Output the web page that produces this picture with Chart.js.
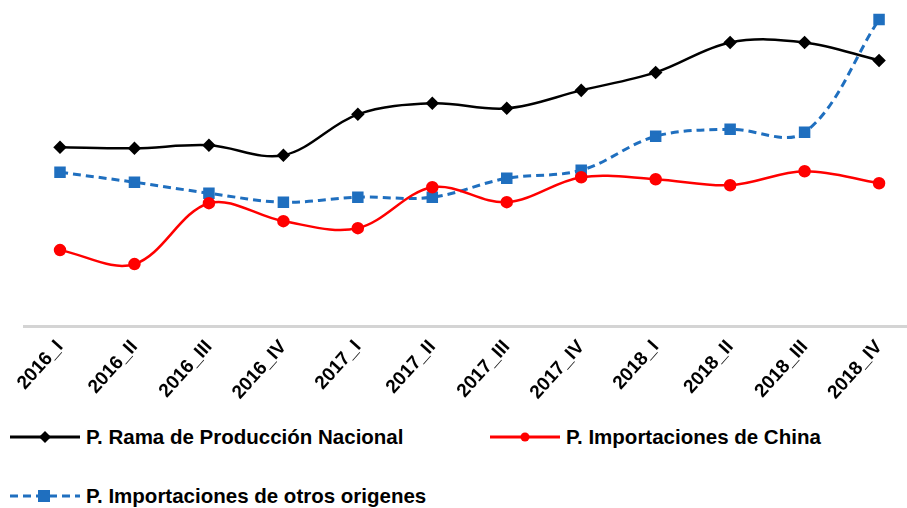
<!DOCTYPE html>
<html>
<head>
<meta charset="utf-8">
<script src="https://cdn.jsdelivr.net/npm/chart.js@4.4.1/dist/chart.umd.min.js"></script>
<style>
  html, body { margin: 0; padding: 0; background: #fff; overflow: hidden; }
  #wrap { position: relative; width: 907px; height: 508px; }
  #chartBox { position: absolute; left: 0; top: 0; width: 907px; height: 420px; }
  .leg { position: absolute; height: 24px; display: flex; align-items: center;
         font-family: 'Liberation Sans', Arial, sans-serif; font-weight: bold; font-size: 20.5px; color: #000; white-space: nowrap; }
  .leg svg { margin-right: 4px; }
</style>
</head>
<body>
<div id="wrap">
  <div id="chartBox"><canvas id="lineChart"></canvas></div>
  <div class="leg" style="left:10px; top:425px;">
    <svg width="72" height="14"><line x1="0" y1="7" x2="70" y2="7" stroke="#000" stroke-width="3"/><polygon points="35,1 41,7 35,13 29,7" fill="#000"/></svg>
    <span>P. Rama de Producción Nacional</span>
  </div>
  <div class="leg" style="left:490px; top:425px;">
    <svg width="72" height="14"><line x1="0" y1="7" x2="70" y2="7" stroke="#ff0000" stroke-width="3"/><circle cx="35" cy="7" r="4.5" fill="#ff0000"/></svg>
    <span>P. Importaciones de China</span>
  </div>
  <div class="leg" style="left:10px; top:484px;">
    <svg width="72" height="14"><line x1="0" y1="7" x2="70" y2="7" stroke="#1f6fbf" stroke-width="3" stroke-dasharray="8,5"/><rect x="28" y="1" width="12" height="12" fill="#1f6fbf"/></svg>
    <span>P. Importaciones de otros origenes</span>
  </div>
</div>
<script>
// trimestres
const labels = ['2016_I', '2016_II', '2016_III', '2016_IV', '2017_I', '2017_II', '2017_III', '2017_IV', '2018_I', '2018_II', '2018_III', '2018_IV'];

// valores (indice, sin eje visible)
const nacional = [71.2, 70.8, 72.0, 68.0, 84.4, 88.8, 86.8, 94.0, 101.2, 113.2, 113.2, 106.0];
const china = [30.0, 24.4, 48.8, 41.6, 38.8, 55.2, 49.2, 59.2, 58.4, 56.0, 61.6, 56.8];
const otros = [61.2, 57.2, 52.8, 49.2, 51.2, 51.2, 58.8, 62.0, 75.6, 78.4, 77.2, 122.4];

// linea gris del eje x
const baseLine = {
    id: 'baseLine',
    beforeDatasetsDraw(chart) {
        const c = chart.ctx;
        const y = chart.chartArea.bottom + 1.5;
        c.save();
        c.strokeStyle = '#d4d4d4';
        c.lineWidth = 3;
        c.beginPath();
        c.moveTo(23, y);
        c.lineTo(907, y);
        c.stroke();
        c.restore();
    }
};

const ctx = document.getElementById('lineChart').getContext('2d');
const myChart = new Chart(ctx, {
    type: 'line',
    data: {
        labels: labels,
        datasets: [{
            label: 'P. Rama de Producción Nacional',
            data: nacional,
            borderColor: '#000',
            backgroundColor: '#000',
            borderWidth: 2.5,
            pointStyle: 'rectRot',
            pointRadius: 5,
            tension: 0.35
        }, {
            label: 'P. Importaciones de China',
            data: china,
            borderColor: '#ff0000',
            backgroundColor: '#ff0000',
            borderWidth: 2.5,
            pointStyle: 'circle',
            pointRadius: 5,
            tension: 0.35
        }, {
            label: 'P. Importaciones de otros origenes',
            data: otros,
            borderColor: '#1f6fbf',
            backgroundColor: '#1f6fbf',
            borderWidth: 3,
            borderDash: [8, 5],
            pointStyle: 'rect',
            pointRadius: 6,
            tension: 0.35
        }]
    },
    options: {
        responsive: true,
        maintainAspectRatio: false,
        animation: false,
        layout: { padding: { left: 60, right: 22, top: 0, bottom: 0 } },
        plugins: { legend: { display: false }, tooltip: { enabled: false } },
        scales: {
            x: {
                offset: false,
                grid: { display: false, drawTicks: false },
                border: { display: false },
                ticks: {
                    minRotation: 48,
                    maxRotation: 48,
                    padding: 11,
                    color: '#000',
                    font: { family: "'Liberation Sans', Arial, sans-serif", weight: 'bold', size: 19 }
                },
                afterFit(scale) { scale.height = 95; }
            },
            y: {
                display: false,
                min: 0,
                max: 126.6
            }
        }
    },
    plugins: [baseLine]
});
</script>
</body>
</html>
